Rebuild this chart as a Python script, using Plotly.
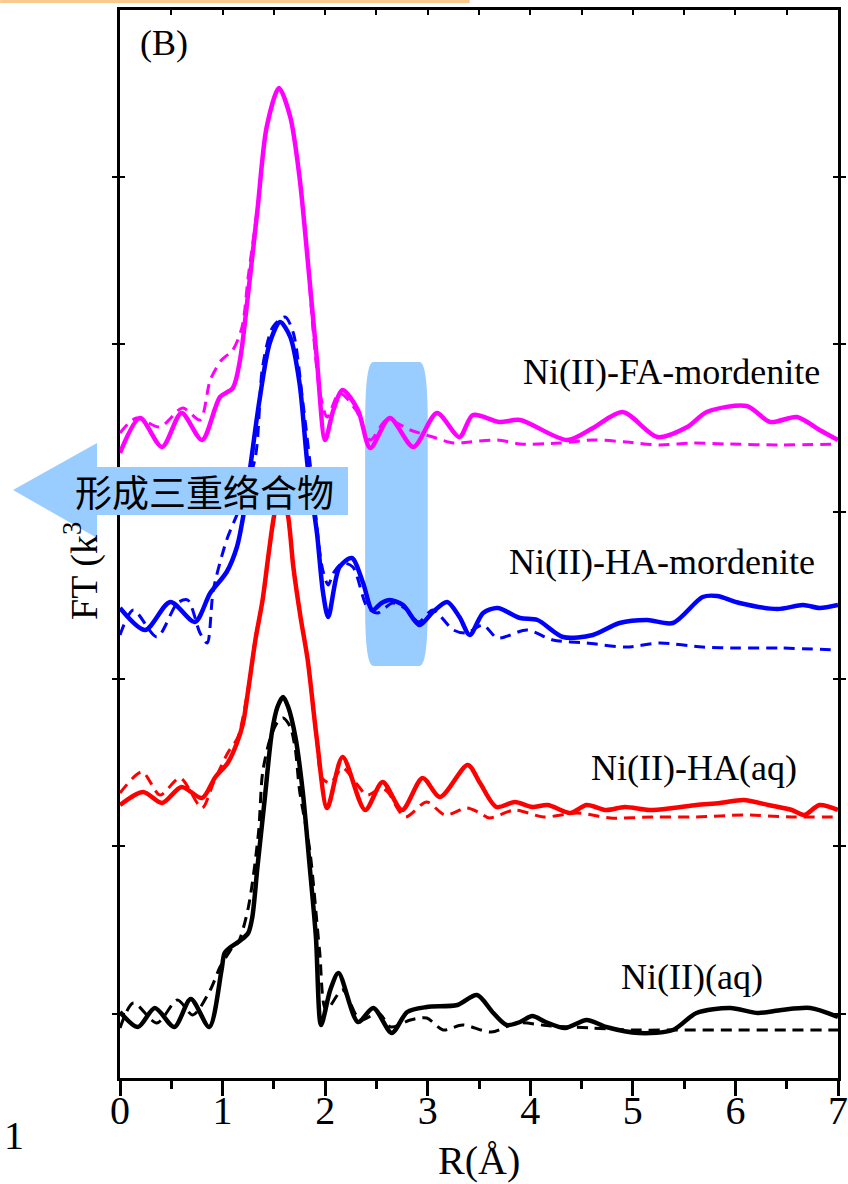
import plotly.graph_objects as go

# Fourier-transformed EXAFS spectra (stacked, arbitrary units); solid = experiment, dashed = fit
r_aq = [0.0, 0.175, 0.34, 0.53, 0.69, 0.87, 0.99, 1.02, 1.08, 1.18, 1.25, 1.29, 1.34, 1.41, 1.48, 1.535,
        1.59, 1.64, 1.71, 1.78, 1.85, 1.91, 1.96, 2.05, 2.13, 2.32, 2.47, 2.65, 2.80, 2.99, 3.29,
        3.48, 3.64, 3.77, 3.90, 4.02, 4.15, 4.34, 4.55, 4.74, 5.06, 5.39, 5.62, 5.95, 6.22, 6.45, 6.73, 7.0]
y_aq = [66, 51, 70, 51, 79, 51, 108, 125, 131, 138, 145, 161, 211, 278, 345, 371,
        381, 371, 341, 288, 211, 141, 53, 88, 105, 56, 70, 45, 66, 71, 73,
        83, 65, 53, 56, 62, 56, 50, 58, 51, 45, 48, 65, 70, 65, 68, 70, 61]

r_aq_fit = [0.0, 0.13, 0.36, 0.56, 0.71, 0.88, 0.975, 1.06, 1.10, 1.15, 1.25, 1.35, 1.39, 1.46, 1.53, 1.59,
            1.66, 1.71, 1.75, 1.85, 1.945, 2.01, 2.17, 2.34, 2.52, 2.64, 2.83, 2.99, 3.15, 3.34,
            3.62, 3.87, 4.2, 4.6, 5.0, 5.5, 6.0, 6.5, 7.0]
y_aq_fit = [50, 75, 55, 78, 63, 88, 111, 125, 131, 135, 170, 245, 305, 338, 355, 360,
            351, 328, 288, 228, 128, 68, 88, 58, 65, 51, 58, 60, 48, 53,
            46, 55, 52, 50, 48, 48, 48, 48, 48]

r_ha = [0.0, 0.225, 0.41, 0.60, 0.80, 0.93, 1.05, 1.14, 1.20, 1.25, 1.32, 1.39, 1.45, 1.50, 1.57,
        1.64, 1.69, 1.76, 1.83, 1.92, 2.02, 2.17, 2.39, 2.56, 2.75, 2.95, 3.12, 3.39, 3.51, 3.67,
        3.85, 4.02, 4.17, 4.39, 4.55, 4.74, 4.92, 5.16, 5.39, 5.62, 5.85, 6.08, 6.32, 6.55, 6.67, 6.82, 7.0]
y_ha = [273, 286, 275, 291, 280, 301, 315, 335, 355, 388, 438, 478, 525, 561, 592,
        561, 511, 461, 418, 338, 270, 321, 268, 296, 268, 300, 281, 313, 295, 271,
        276, 271, 273, 265, 273, 268, 271, 268, 270, 273, 275, 278, 273, 268, 263, 273, 268]

r_ha_fit = [0.0, 0.215, 0.39, 0.585, 0.80, 0.91, 1.05, 1.15, 1.25, 1.32, 1.39, 1.45, 1.50, 1.57,
            1.64, 1.69, 1.76, 1.83, 1.92, 1.97, 2.05, 2.17, 2.30, 2.41, 2.55, 2.61, 2.78, 2.99,
            3.17, 3.38, 3.51, 3.60, 3.85, 4.13, 4.46, 4.78, 5.20, 5.62, 6.08, 6.55, 7.0]
y_ha_fit = [285, 306, 283, 300, 270, 295, 325, 341, 390, 440, 478, 525, 558, 585,
            558, 511, 461, 418, 335, 300, 295, 310, 295, 283, 290, 286, 261, 276,
            263, 270, 265, 260, 268, 261, 265, 260, 261, 261, 263, 261, 261]

r_ham = [0.0, 0.245, 0.49, 0.73, 0.88, 1.04, 1.14, 1.20, 1.27, 1.36, 1.46, 1.56, 1.66, 1.75,
         1.83, 1.92, 1.98, 2.03, 2.14, 2.26, 2.37, 2.46, 2.55, 2.63, 2.76, 2.92, 3.05, 3.19,
         3.31, 3.41, 3.54, 3.68, 3.90, 4.07, 4.32, 4.61, 4.87, 5.14, 5.39, 5.68, 5.82, 6.04,
         6.41, 6.66, 6.82, 7.0]
y_ham = [470, 448, 476, 456, 485, 506, 531, 561, 611, 678, 735, 756, 741, 695,
         611, 545, 485, 461, 511, 520, 495, 468, 475, 478, 473, 453, 466, 476,
         461, 443, 465, 470, 460, 458, 441, 443, 455, 458, 455, 481, 482, 475,
         469, 473, 470, 473]

r_ham_fit = [0.0, 0.13, 0.36, 0.56, 0.66, 0.78, 0.85, 0.91, 1.04, 1.17, 1.32, 1.39, 1.49, 1.61,
             1.69, 1.78, 1.88, 1.97, 2.03, 2.08, 2.17, 2.27, 2.41, 2.51, 2.66, 2.80, 2.91, 3.05,
             3.25, 3.38, 3.54, 3.68, 3.97, 4.22, 4.55, 4.94, 5.26, 5.68, 6.02, 6.43, 7.0]
y_ham_fit = [443, 468, 441, 475, 478, 445, 435, 488, 538, 571, 621, 711, 751, 761,
             745, 678, 591, 511, 493, 505, 515, 511, 471, 465, 475, 468, 456, 468,
             448, 445, 453, 440, 448, 438, 435, 431, 435, 431, 430, 430, 428]

r_fam = [0.0, 0.195, 0.41, 0.60, 0.80, 0.975, 1.10, 1.17, 1.25, 1.34, 1.43, 1.55, 1.66, 1.75,
         1.83, 1.92, 2.00, 2.08, 2.17, 2.32, 2.44, 2.63, 2.86, 3.09, 3.31, 3.44, 3.70, 3.90,
         4.36, 4.61, 4.90, 5.24, 5.53, 5.72, 6.11, 6.34, 6.60, 6.82, 7.0]
y_fam = [625, 660, 631, 665, 638, 681, 690, 718, 785, 868, 951, 990, 961, 901,
         818, 718, 638, 668, 688, 668, 630, 660, 631, 665, 641, 663, 656, 658,
         638, 650, 666, 641, 651, 666, 672, 656, 661, 648, 638]

r_fam_fit = [0.0, 0.16, 0.39, 0.61, 0.78, 0.88, 0.99, 1.10, 1.19, 1.25, 1.34, 1.43, 1.55, 1.66,
             1.75, 1.83, 1.88, 1.95, 2.02, 2.14, 2.30, 2.44, 2.60, 2.83, 3.05, 3.25, 3.41, 3.68,
             3.90, 4.29, 4.61, 4.94, 5.26, 5.58, 5.92, 6.43, 7.0]
y_fam_fit = [645, 660, 651, 670, 658, 698, 718, 728, 751, 801, 870, 951, 990, 961,
             901, 818, 751, 685, 661, 685, 668, 638, 658, 648, 641, 635, 636, 638,
             634, 635, 638, 636, 633, 635, 634, 633, 634]

series = [
    ("Ni(II)(aq)", r_aq, y_aq, r_aq_fit, y_aq_fit, "#000000", 101, 6.29),
    ("Ni(II)-HA(aq)", r_ha, y_ha, r_ha_fit, y_ha_fit, "#FF0000", 310, 6.62),
    ("Ni(II)-HA-mordenite", r_ham, y_ham, r_ham_fit, y_ham_fit, "#0000FF", 516, 6.80),
    ("Ni(II)-FA-mordenite", r_fam, y_fam, r_fam_fit, y_fam_fit, "#FF00FF", 706, 6.84),
]

x_ticks = [0, 1, 2, 3, 4, 5, 6, 7]
serif = "Liberation Serif"
highlight = "#99CCFF"

fig = go.Figure()
annotations = []
for name, rx, ry, fx, fy, color, label_y, label_x in series:
    fig.add_trace(go.Scatter(x=fx, y=fy, mode="lines", name=name + " fit",
                             line=dict(color=color, width=3, dash="11px,7px", shape="spline", smoothing=0.8),
                             showlegend=False))
    fig.add_trace(go.Scatter(x=rx, y=ry, mode="lines", name=name,
                             line=dict(color=color, width=4.5, shape="spline", smoothing=0.8),
                             showlegend=False))
    annotations.append(dict(x=label_x, y=label_y, xref="x", yref="y", text=name, showarrow=False,
                            xanchor="right", yanchor="middle", font=dict(family=serif, size=36, color="black")))

# invisible trace that carries the top axis
fig.add_trace(go.Scatter(x=[0, 7], y=[0, 0], xaxis="x2", mode="lines",
                         line=dict(width=0), hoverinfo="skip", showlegend=False))

annotations += [
    dict(x=0.025, y=0.969, xref="paper", yref="paper", text="(B)", showarrow=False,
         xanchor="left", yanchor="middle", font=dict(family=serif, size=36, color="black")),
    dict(x=0.5, y=-0.077, xref="paper", yref="paper", text="R(Å)", showarrow=False,
         xanchor="center", yanchor="middle", font=dict(family=serif, size=40, color="black")),
    dict(x=-0.053, y=0.427, xref="paper", yref="paper", text="FT (k<sup>3</sup>", showarrow=False,
         textangle=-90, xanchor="center", yanchor="bottom", font=dict(family=serif, size=38, color="black")),
    dict(x=0.118, y=0.5496, xref="paper", yref="paper", text="形成三重络合物", showarrow=False,
         xanchor="center", yanchor="middle", font=dict(family="Noto Sans CJK SC", size=37, color="black")),
    dict(x=-0.148, y=-0.0534, xref="paper", yref="paper", text="1", showarrow=False,
         xanchor="center", yanchor="middle", font=dict(family=serif, size=40, color="black")),
]

shapes = [
    # highlighted R window (second shell region)
    dict(type="path", xref="x", yref="y", layer="below", fillcolor=highlight, line=dict(width=0),
         path="M 2.47,716 L 2.92,716 Q 3.0,716 3.0,655 L 3.0,470 Q 3.0,412 2.92,412 "
              "L 2.47,412 Q 2.39,412 2.39,470 L 2.39,655 Q 2.39,716 2.47,716 Z"),
    # left-pointing arrow behind the Chinese caption
    dict(type="path", xref="paper", yref="paper", layer="above", fillcolor=highlight, line=dict(width=0),
         path="M -0.149,0.5506 L -0.032,0.5946 L -0.032,0.5721 L 0.3175,0.5721 "
              "L 0.3175,0.5272 L -0.032,0.5272 L -0.032,0.5056 Z"),
    # peach strip along the top edge
    dict(type="rect", xref="paper", yref="paper", layer="above", fillcolor="#F9C98F", line=dict(width=0),
         x0=-0.167, x1=0.487, y0=1.0066, y1=1.0094),
]

fig.update_layout(
    width=848, height=1184,
    margin=dict(l=120, r=10, t=10, b=106, autoexpand=False),
    paper_bgcolor="white", plot_bgcolor="white",
    showlegend=False,
    annotations=annotations,
    shapes=shapes,
    xaxis=dict(range=[0, 7], tickvals=x_ticks, ticktext=[str(v) for v in x_ticks], automargin=False,
               ticks="outside", ticklen=15, tickwidth=3, tickcolor="black", ticklabelstandoff=-20,
               minor=dict(dtick=0.5, tick0=0, ticks="outside", ticklen=8, tickwidth=3, tickcolor="black"),
               showline=True, linewidth=3, linecolor="black", showgrid=False, zeroline=False,
               tickfont=dict(family=serif, size=40, color="black")),
    xaxis2=dict(range=[0, 7], overlaying="x", side="top", matches="x", tickvals=x_ticks, automargin=False,
                ticks="inside", ticklen=5, tickwidth=2, tickcolor="black", showticklabels=False,
                minor=dict(dtick=0.5, tick0=0, ticks="inside", ticklen=5, tickwidth=2, tickcolor="black"),
                showline=True, linewidth=3, linecolor="black", showgrid=False, zeroline=False),
    yaxis=dict(range=[0, 1068], tick0=64.4, dtick=167.3, ticks="inside", ticklen=5, tickwidth=2,
               automargin=False, tickcolor="black", showticklabels=False, showline=True, linewidth=3,
               linecolor="black", mirror="allticks", showgrid=False, zeroline=False),
)

fig.write_html("out.html")
